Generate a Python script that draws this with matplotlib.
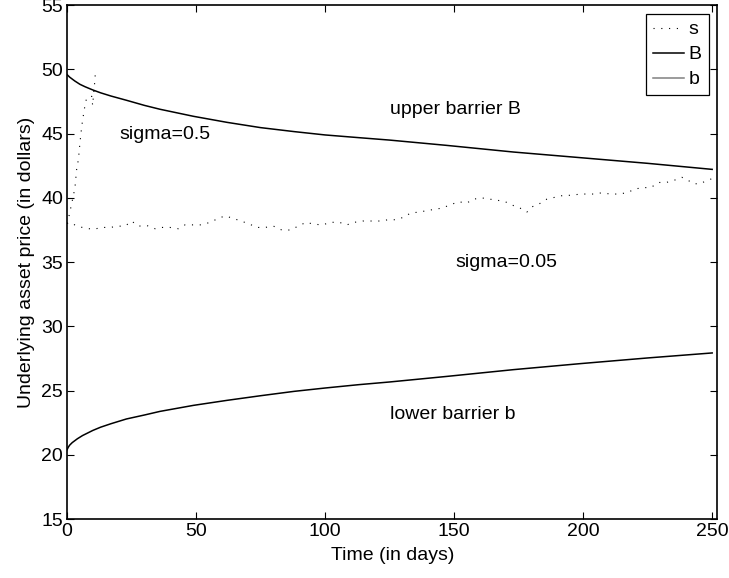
import matplotlib
matplotlib.use("Agg")
import matplotlib.pyplot as plt

plt.rcParams["font.family"] = ["Liberation Sans", "DejaVu Sans"]

# upper barrier B
t_B = [0, 0.5, 1, 2, 3, 5, 7, 10, 13, 17, 23, 30, 36, 49, 62, 75, 88, 100, 113, 125,
       147, 173, 199, 225, 250]
B = [49.6, 49.5, 49.4, 49.25, 49.1, 48.84, 48.65, 48.4, 48.18, 47.93, 47.6, 47.2, 46.9,
     46.35, 45.88, 45.47, 45.16, 44.9, 44.69, 44.5, 44.09, 43.57, 43.13, 42.69, 42.22]

# lower barrier b
t_b = [0, 0.5, 1, 2, 3, 4, 6, 8, 10, 13, 17, 23, 30, 36, 49, 62, 75, 88, 100, 113, 125,
       147, 173, 199, 225, 250]
b = [20.4, 20.6, 20.75, 20.95, 21.1, 21.25, 21.5, 21.7, 21.9, 22.15, 22.42, 22.79, 23.1,
     23.38, 23.85, 24.24, 24.6, 24.94, 25.2, 25.46, 25.67, 26.1, 26.63, 27.1, 27.54, 27.93]

# price path, sigma=0.5 (hits upper barrier)
t_s_hi = [0, 1, 1.8, 2.4, 3.1, 3.7, 4.4, 5.0, 5.7, 6.3, 6.9, 7.6, 8.6, 9.6, 9.9, 10.8, 11.0]
s_hi = [38.0, 38.8, 39.6, 40.1, 40.9, 42.2, 43.0, 44.3, 45.6, 46.4, 47.15, 47.8, 47.9,
        47.9, 47.2, 49.2, 49.9]

# price path, sigma=0.05
t_s_lo = [0, 1.2, 3.8, 7, 10.2, 13.4, 16.7, 19.9, 22.5, 25, 27.6, 30.9, 34.1, 36.7, 39.9,
          43.1, 45.7, 49, 52.2, 55.4, 58.6, 61.2, 64.5, 67.3, 70.3, 73.5, 76.7, 80, 83.2,
          86.4, 89.6, 92.6, 95.7, 99, 102.2, 105.5, 108.4, 111.4, 114.6, 118, 121.3, 124.5,
          127.8, 130.4, 133, 136.2, 139.4, 142, 145.2, 148.4, 151.7, 154.9, 157.5, 160.7,
          163.9, 167.2, 169.8, 173, 175.6, 178.2, 180.1, 182.7, 185.9, 189.1, 192.4, 195.6,
          198.8, 202, 204.7, 207.2, 210.5, 213.7, 217, 220.2, 223.4, 226.2, 229.2, 232.2,
          235, 238.3, 240.8, 242.8, 245.3, 247.9, 250]
s_lo = [38.0, 38.1, 37.8, 37.65, 37.55, 37.7, 37.7, 37.8, 37.8, 38.2, 37.8, 37.85, 37.6,
        37.7, 37.7, 37.6, 37.9, 37.9, 37.9, 38.1, 38.4, 38.6, 38.4, 38.2, 38.0, 37.7, 37.7,
        37.8, 37.5, 37.5, 37.8, 38.1, 37.95, 37.9, 38.1, 38.1, 37.9, 38.1, 38.2, 38.2, 38.2,
        38.3, 38.3, 38.5, 38.8, 38.9, 39.0, 39.1, 39.2, 39.45, 39.7, 39.6, 39.9, 40.0, 39.9,
        39.8, 39.7, 39.4, 39.2, 38.9, 39.3, 39.5, 39.9, 40.05, 40.2, 40.2, 40.3, 40.3, 40.3,
        40.4, 40.3, 40.3, 40.4, 40.7, 40.8, 40.8, 41.2, 41.2, 41.35, 41.6, 41.35, 41.1, 41.1,
        41.35, 41.5]

FS = 14

fig = plt.figure(figsize=(7.29, 5.78), dpi=100)
ax = fig.add_axes([0.092, 0.102, 0.892, 0.889])

dots = (0, (1, 6))
ax.plot(t_s_lo, s_lo, color="black", lw=0.8, linestyle=dots, label="s")
ax.plot(t_s_hi, s_hi, color="black", lw=0.8, linestyle=dots)
ax.plot(t_B, B, color="black", lw=1.1, label="B")
ax.plot(t_b, b, color="black", lw=1.1, label="b")

ax.text(125.2, 46.9, "upper barrier B", fontsize=FS, va="center", ha="left")
ax.text(20.3, 44.95, "sigma=0.5", fontsize=FS, va="center", ha="left")
ax.text(150.4, 35.0, "sigma=0.05", fontsize=FS, va="center", ha="left")
ax.text(125.2, 23.1, "lower barrier b", fontsize=FS, va="center", ha="left")

ax.set_xlim(0, 252)
ax.set_ylim(15, 55)
ax.set_xticks([0, 50, 100, 150, 200, 250])
ax.set_yticks([15, 20, 25, 30, 35, 40, 45, 50, 55])
ax.tick_params(direction="in", top=True, right=True, length=5, width=0.8,
               labelsize=FS, pad=3)
for sp in ax.spines.values():
    sp.set_linewidth(1.2)

ax.set_xlabel("Time (in days)", fontsize=FS, labelpad=5)
ax.set_ylabel("Underlying asset price (in dollars)", fontsize=FS, labelpad=4)

leg = ax.legend(loc="upper right", fontsize=FS, frameon=True, fancybox=False,
                edgecolor="black", framealpha=1, handlelength=1.6,
                borderaxespad=0.45, labelspacing=0.38, handletextpad=0.25,
                borderpad=0.35)
leg.get_frame().set_linewidth(0.9)
leg.get_lines()[2].set_color("0.5")

fig.savefig("out.png", dpi=100)
